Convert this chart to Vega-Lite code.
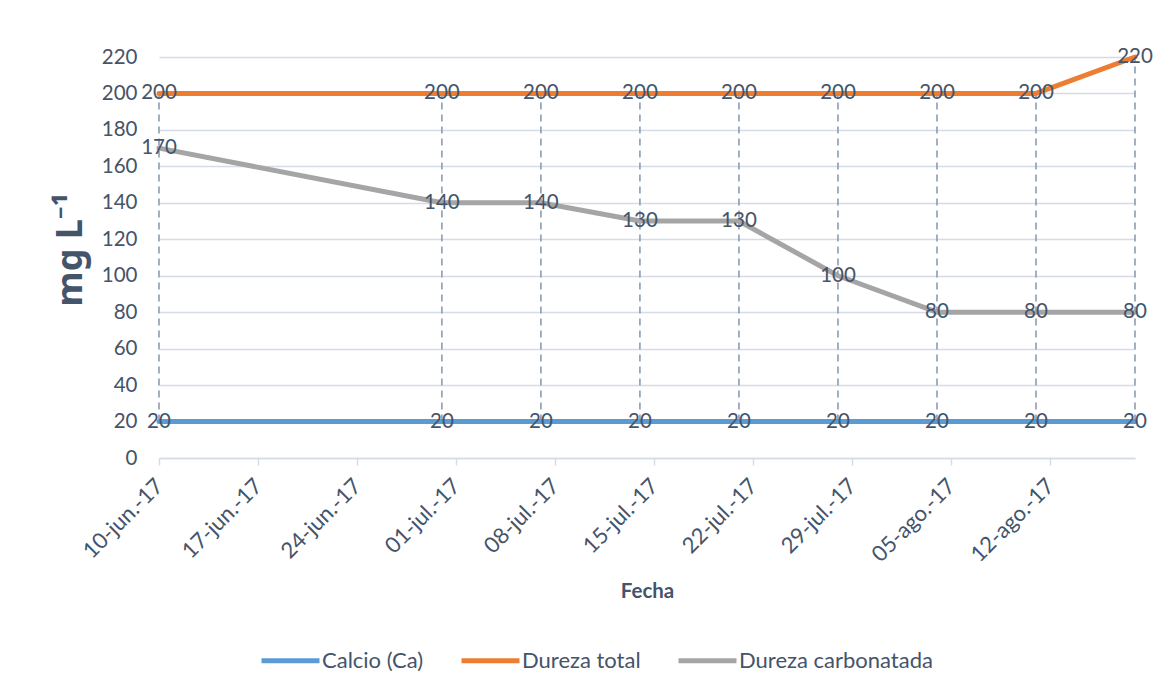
{
  "$schema": "https://vega.github.io/schema/vega-lite/v6.json",
  "width": 976,
  "height": 401,
  "autosize": {"type": "none"},
  "padding": {"left": 159, "top": 57, "right": 37, "bottom": 236},
  "background": "white",
  "config": {
    "view": {"stroke": null},
    "font": "Lato",
    "axisY": {
      "grid": true,
      "gridColor": "#D6DCE5",
      "gridWidth": 1.5,
      "domain": false,
      "ticks": false,
      "labelOverlap": false,
      "labelFlush": false,
      "labelPadding": 22,
      "labelFontSize": 20.5,
      "labelColor": "#44546A",
      "titleFont": "Noto Sans",
      "titleFontSize": 36,
      "titleFontWeight": "bold",
      "titleColor": "#44546A",
      "titlePadding": 12,
      "titleY": 192
    }
  },
  "data": {
    "values": [
      {"fecha": "2017-06-10", "serie": "Calcio (Ca)", "valor": 20},
      {"fecha": "2017-06-30", "serie": "Calcio (Ca)", "valor": 20},
      {"fecha": "2017-07-07", "serie": "Calcio (Ca)", "valor": 20},
      {"fecha": "2017-07-14", "serie": "Calcio (Ca)", "valor": 20},
      {"fecha": "2017-07-21", "serie": "Calcio (Ca)", "valor": 20},
      {"fecha": "2017-07-28", "serie": "Calcio (Ca)", "valor": 20},
      {"fecha": "2017-08-04", "serie": "Calcio (Ca)", "valor": 20},
      {"fecha": "2017-08-11", "serie": "Calcio (Ca)", "valor": 20},
      {"fecha": "2017-08-18", "serie": "Calcio (Ca)", "valor": 20},
      {"fecha": "2017-06-10", "serie": "Dureza total", "valor": 200},
      {"fecha": "2017-06-30", "serie": "Dureza total", "valor": 200},
      {"fecha": "2017-07-07", "serie": "Dureza total", "valor": 200},
      {"fecha": "2017-07-14", "serie": "Dureza total", "valor": 200},
      {"fecha": "2017-07-21", "serie": "Dureza total", "valor": 200},
      {"fecha": "2017-07-28", "serie": "Dureza total", "valor": 200},
      {"fecha": "2017-08-04", "serie": "Dureza total", "valor": 200},
      {"fecha": "2017-08-11", "serie": "Dureza total", "valor": 200},
      {"fecha": "2017-08-18", "serie": "Dureza total", "valor": 220},
      {"fecha": "2017-06-10", "serie": "Dureza carbonatada", "valor": 170},
      {"fecha": "2017-06-30", "serie": "Dureza carbonatada", "valor": 140},
      {"fecha": "2017-07-07", "serie": "Dureza carbonatada", "valor": 140},
      {"fecha": "2017-07-14", "serie": "Dureza carbonatada", "valor": 130},
      {"fecha": "2017-07-21", "serie": "Dureza carbonatada", "valor": 130},
      {"fecha": "2017-07-28", "serie": "Dureza carbonatada", "valor": 100},
      {"fecha": "2017-08-04", "serie": "Dureza carbonatada", "valor": 80},
      {"fecha": "2017-08-11", "serie": "Dureza carbonatada", "valor": 80},
      {"fecha": "2017-08-18", "serie": "Dureza carbonatada", "valor": 80}
    ]
  },
  "encoding": {
    "x": {
      "field": "fecha",
      "type": "temporal",
      "scale": {
        "type": "utc",
        "nice": false,
        "domain": [
          {"year": 2017, "month": 6, "date": 10, "utc": true},
          {"year": 2017, "month": 8, "date": 18, "utc": true}
        ]
      },
      "axis": {
        "values": [
          {"year": 2017, "month": 6, "date": 10, "utc": true},
          {"year": 2017, "month": 6, "date": 17, "utc": true},
          {"year": 2017, "month": 6, "date": 24, "utc": true},
          {"year": 2017, "month": 7, "date": 1, "utc": true},
          {"year": 2017, "month": 7, "date": 8, "utc": true},
          {"year": 2017, "month": 7, "date": 15, "utc": true},
          {"year": 2017, "month": 7, "date": 22, "utc": true},
          {"year": 2017, "month": 7, "date": 29, "utc": true},
          {"year": 2017, "month": 8, "date": 5, "utc": true},
          {"year": 2017, "month": 8, "date": 12, "utc": true}
        ],
        "labelExpr": "utcFormat(datum.value, '%d') + '-' + ['ene','feb','mar','abr','may','jun','jul','ago','sep','oct','nov','dic'][utcmonth(datum.value)] + '.-' + utcFormat(datum.value, '%y')",
        "labelAngle": -45,
        "labelAlign": "right",
        "labelBaseline": "middle",
        "labelPadding": 17,
        "labelFontSize": 22,
        "labelColor": "#44546A",
        "labelOverlap": false,
        "labelFlush": false,
        "grid": false,
        "domain": true,
        "domainColor": "#D6DCE5",
        "domainWidth": 1.5,
        "ticks": true,
        "tickColor": "#D6DCE5",
        "tickWidth": 1.5,
        "tickSize": 7,
        "title": "Fecha",
        "titleFontSize": 20.5,
        "titleFontWeight": "bold",
        "titleColor": "#44546A",
        "titlePadding": 16
      }
    }
  },
  "layer": [
    {
      "mark": {"type": "rule", "strokeDash": [7, 5], "strokeWidth": 1.5, "color": "#8497B0"},
      "encoding": {
        "y": {
          "aggregate": "min",
          "field": "valor",
          "type": "quantitative",
          "scale": {"domain": [0, 220], "nice": false},
          "axis": {
            "values": [0, 20, 40, 60, 80, 100, 120, 140, 160, 180, 200, 220],
            "title": "mg L⁻¹"
          }
        },
        "y2": {"aggregate": "max", "field": "valor"}
      }
    },
    {
      "mark": {"type": "line", "strokeWidth": 5, "strokeCap": "round", "strokeJoin": "round"},
      "encoding": {
        "y": {
          "field": "valor",
          "type": "quantitative",
          "scale": {"domain": [0, 220], "nice": false},
          "axis": {
            "values": [0, 20, 40, 60, 80, 100, 120, 140, 160, 180, 200, 220],
            "title": "mg L⁻¹"
          }
        },
        "color": {
          "field": "serie",
          "type": "nominal",
          "sort": ["Calcio (Ca)", "Dureza total", "Dureza carbonatada"],
          "scale": {
            "domain": ["Calcio (Ca)", "Dureza total", "Dureza carbonatada"],
            "range": ["#5B9BD5", "#ED7D31", "#A5A5A5"]
          },
          "legend": {
            "orient": "none",
            "legendX": 100,
            "legendY": 572,
            "direction": "horizontal",
            "title": null,
            "symbolType": "stroke",
            "symbolSize": 3364,
            "symbolStrokeWidth": 5,
            "labelFontSize": 22,
            "labelColor": "#44546A",
            "labelOffset": 0,
            "columnPadding": 27,
            "labelLimit": 400
          }
        }
      }
    },
    {
      "mark": {"type": "text", "fontSize": 20.5, "color": "#44546A", "align": "center", "baseline": "middle"},
      "encoding": {
        "y": {
          "field": "valor",
          "type": "quantitative",
          "scale": {"domain": [0, 220], "nice": false},
          "axis": {
            "values": [0, 20, 40, 60, 80, 100, 120, 140, 160, 180, 200, 220],
            "title": "mg L⁻¹"
          }
        },
        "text": {"field": "valor", "type": "quantitative"}
      }
    }
  ]
}
